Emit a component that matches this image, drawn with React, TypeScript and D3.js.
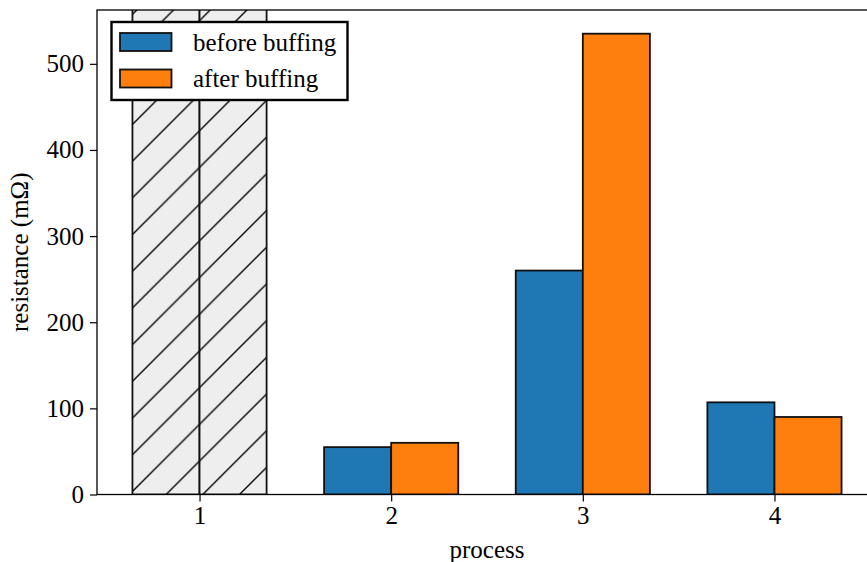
import React, { useEffect, useRef } from 'react';
import * as d3 from "d3";

// data
const processes = [1, 2, 3, 4];
const beforeBuffing = [600, 55, 260, 107];
const afterBuffing = [600, 60, 535, 90];
// process 1 is off the scale, drawn hatched
const offScale = [true, false, false, false];
const yTicks = [0, 100, 200, 300, 400, 500];
const seriesNames = ["before buffing", "after buffing"];
const seriesColors = ["#1f77b4", "#ff7f0e"];

const width = 867, height = 562;
const font = '"Liberation Serif", "Times New Roman", serif';
const fontSize = 25;

export default function App() {
    const ref = useRef<SVGSVGElement | null>(null);

    useEffect(() => {
        const svg = d3.select(ref.current);
        svg.selectAll("*").remove();

        const margin = { top: 10, left: 97, right: 877, bottom: 494.5 };
        const barWidth = 0.35;

        const x = d3.scaleLinear()
            .domain([0.465, 4.535])
            .range([margin.left, margin.right]);

        const y = d3.scaleLinear()
            .domain([0, 562.5])
            .range([margin.bottom, margin.top]);

        const defs = svg.append("defs");
        defs.append("clipPath").attr("id", "plot-clip")
            .append("rect")
            .attr("x", margin.left).attr("y", margin.top)
            .attr("width", margin.right - margin.left)
            .attr("height", margin.bottom - margin.top);

        // "/" hatch, lines where x + y is a multiple of p
        const p = 36.7;
        const pat = defs.append("pattern")
            .attr("id", "hatch")
            .attr("patternUnits", "userSpaceOnUse")
            .attr("width", p).attr("height", p);
        pat.append("rect").attr("width", p).attr("height", p).attr("fill", "#eeeeee");
        pat.append("path")
            .attr("d", `M0,${p} L${p},0 M-2,2 L2,-2 M${p - 2},${p + 2} L${p + 2},${p - 2}`)
            .attr("stroke", "#000").attr("stroke-width", 1.4);

        const plot = svg.append("g").attr("clip-path", "url(#plot-clip)");

        const series = [beforeBuffing, afterBuffing];
        series.forEach((vals, si) => {
            plot.selectAll(`rect.s${si}`)
                .data(processes)
                .enter()
                .append("rect")
                .attr("class", `s${si}`)
                .attr("x", (d) => x(d + (si - 1) * barWidth))
                .attr("width", x(barWidth) - x(0))
                .attr("y", (d, i) => y(vals[i]))
                .attr("height", (d, i) => y(0) - y(vals[i]))
                .attr("fill", (d, i) => offScale[i] ? "url(#hatch)" : seriesColors[si])
                .attr("stroke", "#111")
                .attr("stroke-width", 1.8);
        });

        // axes
        const xAxis = svg.append("g")
            .attr("transform", `translate(0,${margin.bottom})`)
            .call(d3.axisBottom(x).tickValues(processes).tickSize(7).tickPadding(5).tickFormat(d3.format("d")));
        const yAxis = svg.append("g")
            .attr("transform", `translate(${margin.left},0)`)
            .call(d3.axisLeft(y).tickValues(yTicks).tickSize(7).tickPadding(6));

        [xAxis, yAxis].forEach(ax => {
            ax.select(".domain").remove();
            ax.selectAll("line").attr("stroke", "#000").attr("stroke-width", 1.2);
            ax.selectAll("text")
                .attr("font-family", font)
                .attr("font-size", fontSize)
                .attr("fill", "#000");
        });

        // spines
        svg.append("rect")
            .attr("x", margin.left).attr("y", margin.top)
            .attr("width", margin.right - margin.left)
            .attr("height", margin.bottom - margin.top)
            .attr("fill", "none")
            .attr("stroke", "#000")
            .attr("stroke-width", 1.3);

        // axis labels
        svg.append("text")
            .attr("x", (margin.left + margin.right) / 2)
            .attr("y", 558)
            .attr("text-anchor", "middle")
            .attr("font-family", font)
            .attr("font-size", fontSize)
            .text("process");

        svg.append("text")
            .attr("transform", `translate(28,${(margin.top + margin.bottom) / 2}) rotate(-90)`)
            .attr("text-anchor", "middle")
            .attr("font-family", font)
            .attr("font-size", fontSize)
            .text("resistance (mΩ)");

        // legend
        const legend = svg.append("g");
        legend.append("rect")
            .attr("x", 111.5).attr("y", 22)
            .attr("width", 236).attr("height", 78)
            .attr("fill", "#fff")
            .attr("stroke", "#000")
            .attr("stroke-width", 2.4);
        seriesNames.forEach((name, i) => {
            legend.append("rect")
                .attr("x", 120).attr("y", 33 + i * 36.5)
                .attr("width", 51.5).attr("height", 18)
                .attr("fill", seriesColors[i])
                .attr("stroke", "#111")
                .attr("stroke-width", 1.8);
            legend.append("text")
                .attr("x", 193)
                .attr("y", 50.5 + i * 36.5)
                .attr("font-family", font)
                .attr("font-size", fontSize)
                .text(name);
        });
    }, []);

    return (
        <svg ref={ref} width={width} height={height}
            style={{ position: "absolute", left: 0, top: 0, background: "#fff" }}></svg>
    );
}
